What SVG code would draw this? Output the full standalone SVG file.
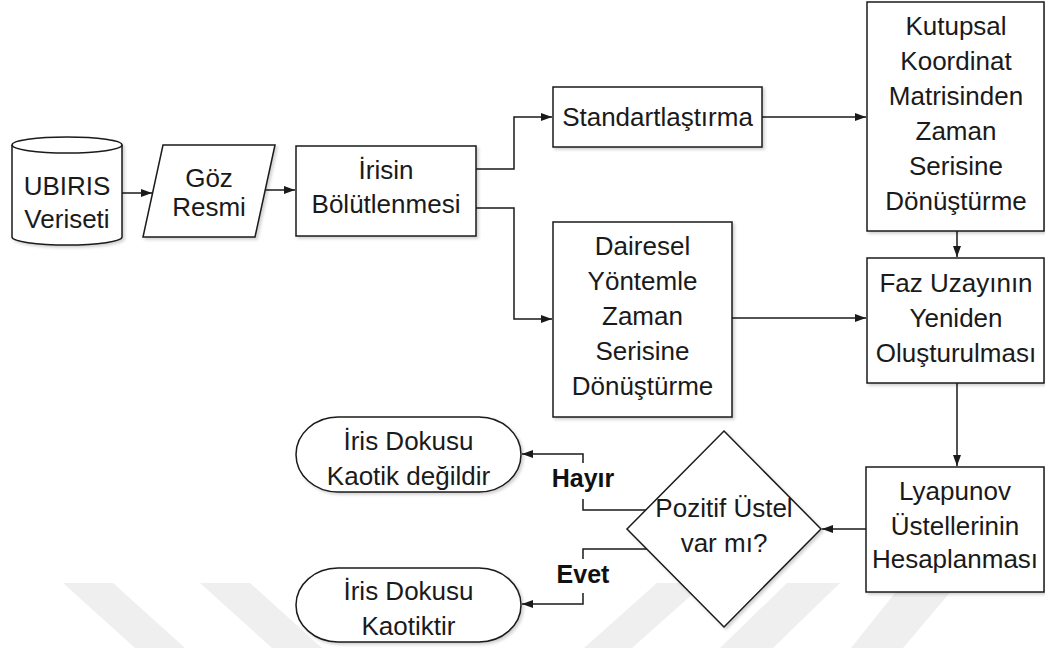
<svg xmlns="http://www.w3.org/2000/svg" width="1045" height="648" viewBox="0 0 1045 648">
<style>
.n{fill:#fff;stroke:#1a1a1a;stroke-width:1.5;filter:url(#sh)}
.t{font-family:"Liberation Sans",Arial,sans-serif;font-size:26px;fill:#1a1a1a;text-anchor:middle}
.lb{font-family:"Liberation Sans",Arial,sans-serif;font-size:25px;font-weight:bold;fill:#111;text-anchor:middle}
.c{fill:none;stroke:#1a1a1a;stroke-width:1.5}
.wm{fill:#efefef}
</style>
<defs>
<marker id="ah" markerUnits="userSpaceOnUse" markerWidth="12" markerHeight="10" refX="11" refY="4" orient="auto">
<path d="M0,0 L11,4 L0,8 z" fill="#1a1a1a"/>
</marker>
<filter id="sh" x="-10%" y="-10%" width="130%" height="130%">
<feDropShadow dx="2" dy="2" stdDeviation="1.5" flood-color="#000" flood-opacity="0.18"/>
</filter>
</defs>
<rect width="1045" height="648" fill="#fff"/>
<g id="watermark">
<polygon class="wm" points="63,583 113,583 185,648 135,648"/>
<polygon class="wm" points="200,583 250,583 322,648 272,648"/>
<polygon class="wm" points="657,583 705,583 632,648 584,648"/>
<polygon class="wm" points="787,583 840,583 773,648 720,648"/>
<polygon class="wm" points="903,583 958,583 903,648 851,648"/>
</g>
<g id="connectors">
<path class="c" d="M122,193 L152,193" marker-end="url(#ah)"/>
<path class="c" d="M263,190 L295,190" marker-end="url(#ah)"/>
<path class="c" d="M476,169 L514,169 L514,117 L552,117" marker-end="url(#ah)"/>
<path class="c" d="M476,208 L514,208 L514,319 L552,319" marker-end="url(#ah)"/>
<path class="c" d="M762,117 L866,117" marker-end="url(#ah)"/>
<path class="c" d="M957,231 L957,257" marker-end="url(#ah)"/>
<path class="c" d="M732,318 L866,318" marker-end="url(#ah)"/>
<path class="c" d="M957,383 L957,466" marker-end="url(#ah)"/>
<path class="c" d="M866,529 L822,529" marker-end="url(#ah)"/>
<path class="c" d="M646,510 L583,510 L583,499"/>
<path class="c" d="M583,463 L583,454 L522,454" marker-end="url(#ah)"/>
<path class="c" d="M647,549 L583,549 L583,559"/>
<path class="c" d="M583,593 L583,604 L522,604" marker-end="url(#ah)"/>
<text class="lb" x="583" y="487">Hayır</text>
<text class="lb" x="583" y="583">Evet</text>
</g>
<g id="ubiris">
<path class="n" d="M12,145 A55,8 0 0 1 122,145 L122,237 A55,8 0 0 1 12,237 Z"/>
<path class="c" d="M12,145 A55,8 0 0 0 122,145"/>
<text class="t" x="67" y="195">UBIRIS</text>
<text class="t" x="67" y="228">Veriseti</text>
</g>
<g id="goz">
<polygon class="n" points="163,145 275,145 255,237 143,237"/>
<text class="t" x="209" y="187">Göz</text>
<text class="t" x="209" y="216">Resmi</text>
</g>
<g id="irisin">
<rect class="n" x="296" y="146" width="180" height="90"/>
<text class="t" x="386" y="179">İrisin</text>
<text class="t" x="386" y="213">Bölütlenmesi</text>
</g>
<g id="standart">
<rect class="n" x="553" y="87" width="209" height="60"/>
<text class="t" x="657.5" y="126">Standartlaştırma</text>
</g>
<g id="kutupsal">
<rect class="n" x="867" y="2" width="177" height="229"/>
<text class="t" x="956" y="35">Kutupsal</text>
<text class="t" x="956" y="70">Koordinat</text>
<text class="t" x="956" y="105">Matrisinden</text>
<text class="t" x="956" y="140">Zaman</text>
<text class="t" x="956" y="175">Serisine</text>
<text class="t" x="956" y="210">Dönüştürme</text>
</g>
<g id="dairesel">
<rect class="n" x="553" y="222" width="179" height="195"/>
<text class="t" x="642.5" y="255">Dairesel</text>
<text class="t" x="642.5" y="290">Yöntemle</text>
<text class="t" x="642.5" y="325">Zaman</text>
<text class="t" x="642.5" y="360">Serisine</text>
<text class="t" x="642.5" y="395">Dönüştürme</text>
</g>
<g id="faz">
<rect class="n" x="867" y="258" width="177" height="125"/>
<text class="t" x="956" y="292">Faz Uzayının</text>
<text class="t" x="956" y="327">Yeniden</text>
<text class="t" x="956" y="362">Oluşturulması</text>
</g>
<g id="lyapunov">
<rect class="n" x="866" y="467" width="178" height="125"/>
<text class="t" x="955" y="500">Lyapunov</text>
<text class="t" x="955" y="535">Üstellerinin</text>
<text class="t" x="955" y="568">Hesaplanması</text>
</g>
<g id="karar">
<polygon class="n" points="724,431 821,529 724,627 627,529"/>
<text class="t" x="724" y="517">Pozitif Üstel</text>
<text class="t" x="724" y="552">var mı?</text>
</g>
<g id="kaotik-degil">
<rect class="n" x="296" y="417" width="225" height="75" rx="42" ry="37.5"/>
<text class="t" x="408.5" y="450">İris Dokusu</text>
<text class="t" x="408.5" y="485">Kaotik değildir</text>
</g>
<g id="kaotik">
<rect class="n" x="296" y="568" width="225" height="74" rx="42" ry="37"/>
<text class="t" x="408.5" y="600">İris Dokusu</text>
<text class="t" x="408.5" y="635">Kaotiktir</text>
</g>
</svg>
